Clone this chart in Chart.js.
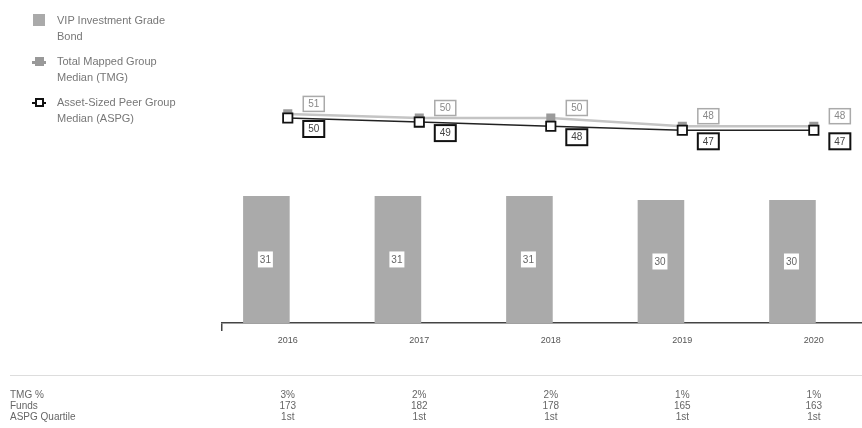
<!DOCTYPE html>
<html>
<head>
<meta charset="utf-8">
<script src="https://cdn.jsdelivr.net/npm/chart.js"></script>
<style>
    body { margin: 0; overflow: hidden; background: #fff; font-family: "Liberation Sans", Arial, sans-serif; }
    #wrap { position: absolute; left: 0; top: 0; width: 888px; height: 428px; }
    #legend { position: absolute; left: 32px; top: 12px; font-size: 11px; color: #777; line-height: 16px; }
    .item { position: relative; padding-left: 25px; margin-bottom: 9px; }
    .mk { position: absolute; left: 0; top: 2px; width: 14px; height: 14px; }
    .sq { position: absolute; left: 1px; top: 0; width: 12px; height: 12px; background: #aaa; }
    .ln { position: absolute; left: 0; top: 6px; width: 14px; height: 2px; }
    .pt { position: absolute; left: 3px; top: 2px; width: 9px; height: 9px; box-sizing: border-box; }
</style>
</head>
<body>
<div id="wrap">
    <canvas id="chart" width="888" height="428"></canvas>
</div>
<div id="legend">
    <div class="item"><span class="mk"><span class="sq"></span></span>VIP Investment Grade<br>Bond</div>
    <div class="item"><span class="mk"><span class="ln" style="background:#999;height:3px"></span><span class="pt" style="background:#999"></span></span>Total Mapped Group<br>Median (TMG)</div>
    <div class="item"><span class="mk"><span class="ln" style="background:#111"></span><span class="pt" style="background:#fff;border:2px solid #111"></span></span>Asset-Sized Peer Group<br>Median (ASPG)</div>
</div>
<script>
    const years = ["2016", "2017", "2018", "2019", "2020"];
    const fundValues = [31, 31, 31, 30, 30];
    const tmgValues = [51, 50, 50, 48, 48];
    const aspgValues = [50, 49, 48, 47, 47];
    const tmgPct = ["3%", "2%", "2%", "1%", "1%"];
    const fundsCount = ["173", "182", "178", "165", "163"];
    const aspgQuartile = ["1st", "1st", "1st", "1st", "1st"];

    function box(ctx, cx, cy, w, h, text, border, lw, color) {
        ctx.save();
        ctx.fillStyle = "#fff";
        ctx.fillRect(cx - w / 2, cy - h / 2, w, h);
        if (border) {
            ctx.strokeStyle = border;
            ctx.lineWidth = lw;
            ctx.strokeRect(cx - w / 2, cy - h / 2, w, h);
        }
        ctx.fillStyle = color;
        ctx.font = "10px 'Liberation Sans', Arial, sans-serif";
        ctx.textAlign = "center";
        ctx.textBaseline = "middle";
        ctx.fillText(text, cx, cy + 0.5);
        ctx.restore();
    }

    const labelPlugin = {
        id: "labels",
        afterDatasetsDraw(chart) {
            const ctx = chart.ctx;
            chart.getDatasetMeta(0).data.forEach((bar, i) => {
                box(ctx, bar.x - 1, (bar.y + bar.base) / 2, 15, 16, String(fundValues[i]), null, 0, "#666");
            });
            chart.getDatasetMeta(2).data.forEach((p, i) => {
                box(ctx, p.x + 26, p.y - 10, 21, 15, String(tmgValues[i]), "#aaa", 1.5, "#888");
            });
            chart.getDatasetMeta(3).data.forEach((p, i) => {
                box(ctx, p.x + 26, p.y + 11, 21, 16, String(aspgValues[i]), "#111", 2, "#444");
            });
        }
    };

    const tablePlugin = {
        id: "table",
        afterDraw(chart) {
            const ctx = chart.ctx;
            const x = chart.scales.x;
            ctx.save();
            ctx.strokeStyle = "#ddd";
            ctx.lineWidth = 1;
            ctx.beginPath();
            ctx.moveTo(10, 375.5);
            ctx.lineTo(chart.width, 375.5);
            ctx.stroke();
            ctx.font = "10px 'Liberation Sans', Arial, sans-serif";
            ctx.fillStyle = "#666";
            ctx.textBaseline = "middle";
            const rows = [["TMG %", tmgPct], ["Funds", fundsCount], ["ASPG Quartile", aspgQuartile]];
            rows.forEach((r, j) => {
                const y = 395.5 + j * 11;
                ctx.textAlign = "left";
                ctx.fillText(r[0], 10, y);
                ctx.textAlign = "center";
                r[1].forEach((v, i) => ctx.fillText(v, x.getPixelForValue(i), y));
            });
            ctx.restore();
        }
    };

    const chart = new Chart(document.getElementById("chart"), {
        data: {
            labels: years,
            datasets: [
                {
                    type: "bar",
                    label: "VIP Investment Grade Bond",
                    data: fundValues,
                    backgroundColor: "#aaaaaa",
                    categoryPercentage: 0.65,
                    barPercentage: 1.09,
                    order: 3
                },
                {
                    type: "bar",
                    label: "",
                    data: years.map(() => null),
                    backgroundColor: "rgba(0,0,0,0)",
                    categoryPercentage: 0.65,
                    barPercentage: 1.09,
                    order: 4
                },
                {
                    type: "line",
                    label: "Total Mapped Group Median (TMG)",
                    data: tmgValues,
                    borderColor: "#c4c4c4",
                    borderWidth: 2.5,
                    pointStyle: "rect",
                    pointRadius: 6.4,
                    pointBackgroundColor: "#9a9a9a",
                    pointBorderColor: "#9a9a9a",
                    pointBorderWidth: 0,
                    order: 2
                },
                {
                    type: "line",
                    label: "Asset-Sized Peer Group Median (ASPG)",
                    data: aspgValues,
                    borderColor: "#222",
                    borderWidth: 1.5,
                    pointStyle: "rect",
                    pointRadius: 6.6,
                    pointBackgroundColor: "#fff",
                    pointBorderColor: "#111",
                    pointBorderWidth: 1.8,
                    order: 1
                }
            ]
        },
        options: {
            responsive: false,
            animation: false,
            layout: { padding: { left: 222, right: 0, top: 77, bottom: 0 } },
            plugins: { legend: { display: false }, tooltip: { enabled: false } },
            scales: {
                x: {
                    offset: true,
                    grid: {
                        offset: true,
                        drawOnChartArea: false,
                        tickLength: 8,
                        lineWidth: 1.5,
                        color: (c) => c.index === 0 ? "#444" : "rgba(0,0,0,0)"
                    },
                    border: { display: true, color: "#444", width: 1.5 },
                    ticks: { color: "#555", padding: 4, font: { size: 9, family: "'Liberation Sans', Arial, sans-serif" } },
                    afterFit: (s) => { s.height = 105; }
                },
                y: { display: false, min: 0, max: 60 }
            }
        },
        plugins: [labelPlugin, tablePlugin]
    });
</script>
</body>
</html>
